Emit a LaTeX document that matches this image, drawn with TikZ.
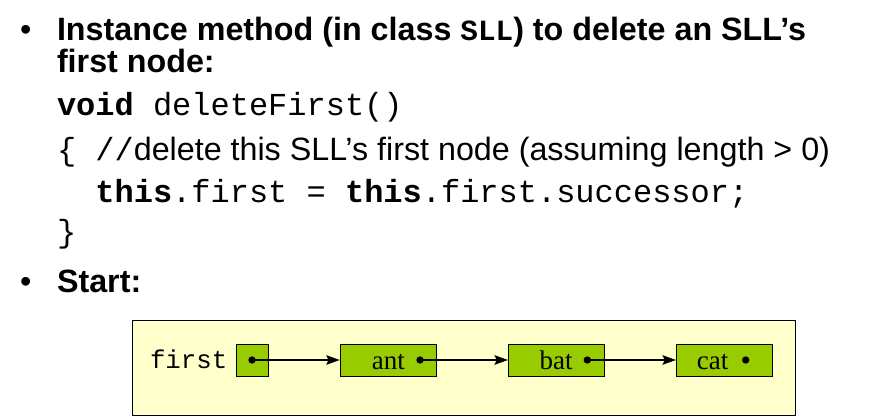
\documentclass[tikz,border=0pt]{standalone}
\usepackage{fontspec}
\setmainfont{Liberation Sans}
\newfontfamily\cour{Liberation Mono}
\newfontfamily\tms{Liberation Serif}
\usetikzlibrary{arrows.meta}
\definecolor{paleyellow}{HTML}{FFFFCC}
\definecolor{nodegreen}{HTML}{99CC00}
\newcommand\tsz{\fontsize{24.2pt}{28pt}\selectfont}
\newcommand\csz{\fontsize{24pt}{28pt}\selectfont}
\tikzset{
  txt/.style={anchor=base west, inner sep=0pt, outer sep=0pt},
  gbox/.style={draw=black, fill=nodegreen, line width=0.75pt, minimum height=24.3pt, inner sep=0pt},
  lbl/.style={anchor=base, inner sep=0pt, font=\tms\fontsize{20.25pt}{24pt}\selectfont},
  arr/.style={line width=1.5pt, -{Stealth[length=10pt,width=7pt,inset=1.5pt]}},
  dotm/.style={circle, fill=black, inner sep=0pt, minimum size=5.5pt}
}
\begin{document}
\begin{tikzpicture}[x=0.75pt,y=-0.75pt]
\useasboundingbox[fill=white] (0,0) rectangle (880,417);
% text
\node[txt] (b1) at (20,41) {\tsz\textbullet};
\node[txt] (t1) at (57,41) {\tsz\bfseries Instance method (in class {\cour\fontsize{22pt}{22pt}\selectfont SLL}) to delete an SLL’s};
\node[txt] (t2) at (57,73) {\tsz\bfseries first node:};
\node[txt] (c1) at (57,116) {\cour\csz\textbf{void} deleteFirst()};
\node[txt] (c2) at (57,161) {{\cour\csz\{ //}{\tsz delete this SLL’s first node (assuming length > 0)}};
\node[txt] (c3) at (57,202) {\cour\csz\ \ \textbf{this}.first = \textbf{this}.first.successor;};
\node[txt] (c4) at (57,242) {\cour\csz\}};
\node[txt] (b2) at (20,292) {\tsz\textbullet};
\node[txt] (t3) at (57,292) {\tsz\bfseries Start:};
% list
\node[draw=black, fill=paleyellow, line width=0.75pt, minimum width=497.6pt, minimum height=71.25pt, inner sep=0pt] (lst) at (464,368.2) {};
\node[txt] (flbl) at (150,368) {\cour\fontsize{19.3pt}{20pt}\selectfont first};
\node[gbox, minimum width=24pt] (fb) at (252.3,360.5) {};
\node[gbox, minimum width=72pt] (ant) at (388.3,360.5) {};
\node[gbox, minimum width=72pt] (bat) at (556.5,360.5) {};
\node[gbox, minimum width=72pt] (cat) at (724.5,360.5) {};
\node[lbl] (antl) at (388.3,369) {ant};
\node[lbl] (batl) at (556,369) {bat};
\node[lbl] (catl) at (712.5,369) {cat};
\node[dotm] (d0) at (252,360) {};
\node[dotm] (d1) at (420,360) {};
\node[dotm] (d2) at (587.3,360) {};
\node[dotm] (d3) at (745.7,360) {};
\draw[arr] (d0.center) -- (d0.center -| ant.west);
\draw[arr] (d1.center) -- (d1.center -| bat.west);
\draw[arr] (d2.center) -- (d2.center -| cat.west);
\end{tikzpicture}
\end{document}
